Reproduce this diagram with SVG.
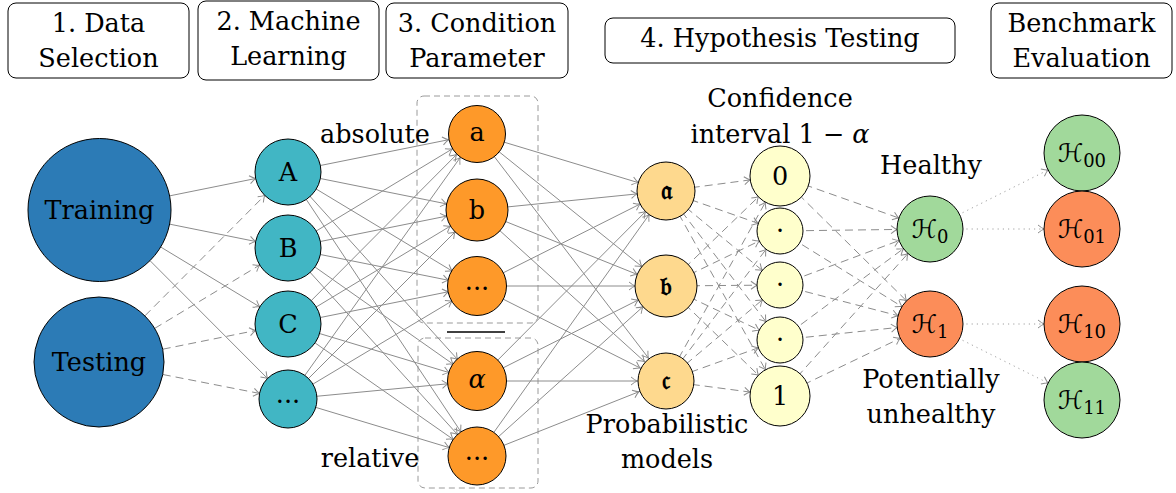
<svg xmlns="http://www.w3.org/2000/svg" width="1176" height="493" viewBox="0 0 1176 493" font-family="'DejaVu Serif', 'Liberation Serif', serif">
<style>
text{font-family:'DejaVu Serif','Liberation Serif',serif;font-size:25.5px;fill:#000;text-anchor:middle}
.hdr{fill:#fff;stroke:#000;stroke-width:1}
.n{stroke:#000;stroke-width:1}
.blue{fill:#2c7bb6}.teal{fill:#41b6c4}.org{fill:#fe9929}.lor{fill:#fed98e}.yel{fill:#ffffcc}.grn{fill:#a1d99b}.red{fill:#fc8d59}
.e{stroke:#8c8c8c;stroke-width:1;fill:none}
.d{stroke-dasharray:8 5}
.dt{stroke-dasharray:1.2 4;stroke:#a0a0a0}
.box{fill:none;stroke:#9a9a9a;stroke-width:1;stroke-dasharray:6 4}
.ah{fill:none;stroke:#8c8c8c;stroke-width:1;stroke-dasharray:none}
.it{font-style:italic}
.sub{font-size:18px}
.frak{font-family:'DejaVu Sans','Noto Sans',serif;font-weight:bold}
.scr{font-family:'DejaVu Serif','DejaVu Sans',serif;font-style:italic}
</style>
<defs>
<marker id="m23" markerUnits="userSpaceOnUse" orient="auto" refX="23" refY="0" overflow="visible"><path class="ah" d="M-6,-4 Q-2,-0.8 0,0 Q-2,0.8 -6,4"/></marker>
<marker id="m29" markerUnits="userSpaceOnUse" orient="auto" refX="29" refY="0" overflow="visible"><path class="ah" d="M-6,-4 Q-2,-0.8 0,0 Q-2,0.8 -6,4"/></marker>
<marker id="m30" markerUnits="userSpaceOnUse" orient="auto" refX="30" refY="0" overflow="visible"><path class="ah" d="M-6,-4 Q-2,-0.8 0,0 Q-2,0.8 -6,4"/></marker>
<marker id="m31" markerUnits="userSpaceOnUse" orient="auto" refX="31" refY="0" overflow="visible"><path class="ah" d="M-6,-4 Q-2,-0.8 0,0 Q-2,0.8 -6,4"/></marker>
<marker id="m33" markerUnits="userSpaceOnUse" orient="auto" refX="33" refY="0" overflow="visible"><path class="ah" d="M-6,-4 Q-2,-0.8 0,0 Q-2,0.8 -6,4"/></marker>
<marker id="m38" markerUnits="userSpaceOnUse" orient="auto" refX="38" refY="0" overflow="visible"><path class="ah" d="M-6,-4 Q-2,-0.8 0,0 Q-2,0.8 -6,4"/></marker>
</defs>

<g id="headers">
<g id="h1"><rect class="hdr" x="8" y="3" width="181" height="75" rx="8"/><text x="98.5" y="32">1. Data</text><text x="98.5" y="67">Selection</text></g>
<g id="h2"><rect class="hdr" x="198" y="1" width="181" height="79" rx="8"/><text x="288.5" y="30">2. Machine</text><text x="288.5" y="65">Learning</text></g>
<g id="h3"><rect class="hdr" x="386" y="3" width="182" height="75" rx="8"/><text x="477" y="32">3. Condition</text><text x="477" y="67">Parameter</text></g>
<g id="h4"><rect class="hdr" x="605" y="18" width="350" height="45" rx="8"/><text x="780" y="47">4. Hypothesis Testing</text></g>
<g id="h5"><rect class="hdr" x="991" y="3" width="181" height="75" rx="8"/><text x="1081.5" y="32">Benchmark</text><text x="1081.5" y="67">Evaluation</text></g>
</g>

<g id="groups">
<rect class="box" x="417" y="96" width="121" height="227" rx="7"/>
<rect class="box" x="418" y="338" width="120" height="150" rx="7"/>
<line x1="447" y1="332" x2="505" y2="332" stroke="#000" stroke-width="1.6"/>
</g>

<g id="connectors">
<line class="e" x1="99.5" y1="210" x2="288" y2="172" marker-end="url(#m33)"/>
<line class="e" x1="99.5" y1="210" x2="288" y2="248" marker-end="url(#m33)"/>
<line class="e" x1="99.5" y1="210" x2="288" y2="324" marker-end="url(#m33)"/>
<line class="e" x1="99.5" y1="210" x2="288" y2="399" marker-end="url(#m29)"/>
<line class="e d" x1="99" y1="362" x2="288" y2="172" marker-end="url(#m33)"/>
<line class="e d" x1="99" y1="362" x2="288" y2="248" marker-end="url(#m33)"/>
<line class="e d" x1="99" y1="362" x2="288" y2="324" marker-end="url(#m33)"/>
<line class="e d" x1="99" y1="362" x2="288" y2="399" marker-end="url(#m29)"/>
<line class="e" x1="288" y1="172" x2="477" y2="134" marker-end="url(#m29)"/>
<line class="e" x1="288" y1="172" x2="477" y2="210" marker-end="url(#m31)"/>
<line class="e" x1="288" y1="172" x2="477" y2="286" marker-end="url(#m29)"/>
<line class="e" x1="288" y1="172" x2="477" y2="381" marker-end="url(#m29)"/>
<line class="e" x1="288" y1="172" x2="477" y2="456" marker-end="url(#m29)"/>
<line class="e" x1="288" y1="248" x2="477" y2="134" marker-end="url(#m29)"/>
<line class="e" x1="288" y1="248" x2="477" y2="210" marker-end="url(#m31)"/>
<line class="e" x1="288" y1="248" x2="477" y2="286" marker-end="url(#m29)"/>
<line class="e" x1="288" y1="248" x2="477" y2="381" marker-end="url(#m29)"/>
<line class="e" x1="288" y1="248" x2="477" y2="456" marker-end="url(#m29)"/>
<line class="e" x1="288" y1="324" x2="477" y2="134" marker-end="url(#m29)"/>
<line class="e" x1="288" y1="324" x2="477" y2="210" marker-end="url(#m31)"/>
<line class="e" x1="288" y1="324" x2="477" y2="286" marker-end="url(#m29)"/>
<line class="e" x1="288" y1="324" x2="477" y2="381" marker-end="url(#m29)"/>
<line class="e" x1="288" y1="324" x2="477" y2="456" marker-end="url(#m29)"/>
<line class="e" x1="288" y1="399" x2="477" y2="134" marker-end="url(#m29)"/>
<line class="e" x1="288" y1="399" x2="477" y2="210" marker-end="url(#m31)"/>
<line class="e" x1="288" y1="399" x2="477" y2="286" marker-end="url(#m29)"/>
<line class="e" x1="288" y1="399" x2="477" y2="381" marker-end="url(#m29)"/>
<line class="e" x1="288" y1="399" x2="477" y2="456" marker-end="url(#m29)"/>
<line class="e" x1="477" y1="134" x2="666" y2="191" marker-end="url(#m29)"/>
<line class="e" x1="477" y1="134" x2="666" y2="286" marker-end="url(#m31)"/>
<line class="e" x1="477" y1="134" x2="666" y2="381" marker-end="url(#m29)"/>
<line class="e" x1="477" y1="210" x2="666" y2="191" marker-end="url(#m29)"/>
<line class="e" x1="477" y1="210" x2="666" y2="286" marker-end="url(#m31)"/>
<line class="e" x1="477" y1="210" x2="666" y2="381" marker-end="url(#m29)"/>
<line class="e" x1="477" y1="286" x2="666" y2="191" marker-end="url(#m29)"/>
<line class="e" x1="477" y1="286" x2="666" y2="286" marker-end="url(#m31)"/>
<line class="e" x1="477" y1="286" x2="666" y2="381" marker-end="url(#m29)"/>
<line class="e" x1="477" y1="381" x2="666" y2="191" marker-end="url(#m29)"/>
<line class="e" x1="477" y1="381" x2="666" y2="286" marker-end="url(#m31)"/>
<line class="e" x1="477" y1="381" x2="666" y2="381" marker-end="url(#m29)"/>
<line class="e" x1="477" y1="456" x2="666" y2="191" marker-end="url(#m29)"/>
<line class="e" x1="477" y1="456" x2="666" y2="286" marker-end="url(#m31)"/>
<line class="e" x1="477" y1="456" x2="666" y2="381" marker-end="url(#m29)"/>
<line class="e d" x1="666" y1="191" x2="780" y2="176" marker-end="url(#m30)"/>
<line class="e d" x1="666" y1="191" x2="780" y2="231" marker-end="url(#m23)"/>
<line class="e d" x1="666" y1="191" x2="780" y2="285" marker-end="url(#m23)"/>
<line class="e d" x1="666" y1="191" x2="780" y2="340" marker-end="url(#m23)"/>
<line class="e d" x1="666" y1="191" x2="780" y2="396" marker-end="url(#m30)"/>
<line class="e d" x1="666" y1="286" x2="780" y2="176" marker-end="url(#m30)"/>
<line class="e d" x1="666" y1="286" x2="780" y2="231" marker-end="url(#m23)"/>
<line class="e d" x1="666" y1="286" x2="780" y2="285" marker-end="url(#m23)"/>
<line class="e d" x1="666" y1="286" x2="780" y2="340" marker-end="url(#m23)"/>
<line class="e d" x1="666" y1="286" x2="780" y2="396" marker-end="url(#m30)"/>
<line class="e d" x1="666" y1="381" x2="780" y2="176" marker-end="url(#m30)"/>
<line class="e d" x1="666" y1="381" x2="780" y2="231" marker-end="url(#m23)"/>
<line class="e d" x1="666" y1="381" x2="780" y2="285" marker-end="url(#m23)"/>
<line class="e d" x1="666" y1="381" x2="780" y2="340" marker-end="url(#m23)"/>
<line class="e d" x1="666" y1="381" x2="780" y2="396" marker-end="url(#m30)"/>
<line class="e d" x1="780" y1="176" x2="930" y2="229" marker-end="url(#m33)"/>
<line class="e d" x1="780" y1="176" x2="930" y2="324" marker-end="url(#m33)"/>
<line class="e d" x1="780" y1="231" x2="930" y2="229" marker-end="url(#m33)"/>
<line class="e d" x1="780" y1="231" x2="930" y2="324" marker-end="url(#m33)"/>
<line class="e d" x1="780" y1="285" x2="930" y2="229" marker-end="url(#m33)"/>
<line class="e d" x1="780" y1="285" x2="930" y2="324" marker-end="url(#m33)"/>
<line class="e d" x1="780" y1="340" x2="930" y2="229" marker-end="url(#m33)"/>
<line class="e d" x1="780" y1="340" x2="930" y2="324" marker-end="url(#m33)"/>
<line class="e d" x1="780" y1="396" x2="930" y2="229" marker-end="url(#m33)"/>
<line class="e d" x1="780" y1="396" x2="930" y2="324" marker-end="url(#m33)"/>
<line class="e dt" x1="930" y1="229" x2="1082" y2="153" marker-end="url(#m38)"/>
<line class="e dt" x1="930" y1="229" x2="1082" y2="229" marker-end="url(#m38)"/>
<line class="e dt" x1="930" y1="324" x2="1082" y2="324" marker-end="url(#m38)"/>
<line class="e dt" x1="930" y1="324" x2="1082" y2="400" marker-end="url(#m38)"/>
</g>

<g id="labels">
<text x="375" y="143">absolute</text>
<text x="370" y="467">relative</text>
<text x="667" y="433">Probabilistic</text>
<text x="667" y="468">models</text>
<text x="780" y="107">Confidence</text>
<text x="780" y="143">interval 1 − <tspan class="it">α</tspan></text>
<text x="931" y="174">Healthy</text>
<text x="931" y="388">Potentially</text>
<text x="931" y="423">unhealthy</text>
</g>

<g id="n-training"><circle class="n blue" cx="99.5" cy="210" r="71.5"/><text x="99.5" y="219">Training</text></g>
<g id="n-testing"><circle class="n blue" cx="99" cy="362" r="65"/><text x="99" y="371">Testing</text></g>

<g id="n-A"><circle class="n teal" cx="288" cy="172" r="33"/><text x="288" y="181">A</text></g>
<g id="n-B"><circle class="n teal" cx="288" cy="248" r="33"/><text x="288" y="257">B</text></g>
<g id="n-C"><circle class="n teal" cx="288" cy="324" r="33"/><text x="288" y="333">C</text></g>
<g id="n-D"><circle class="n teal" cx="288" cy="399" r="29"/><text x="288" y="403">...</text></g>

<g id="n-a"><circle class="n org" cx="477" cy="134" r="28.5"/><text x="477" y="141">a</text></g>
<g id="n-b"><circle class="n org" cx="477" cy="210" r="31"/><text x="477" y="219">b</text></g>
<g id="n-dots1"><circle class="n org" cx="477" cy="286" r="29.5"/><text x="477" y="290">...</text></g>
<g id="n-alpha"><circle class="n org" cx="477" cy="381" r="29.5"/><text class="it" x="477" y="388">α</text></g>
<g id="n-dots2"><circle class="n org" cx="477" cy="456" r="29"/><text x="477" y="460">...</text></g>

<g id="n-pa"><circle class="n lor" cx="666" cy="191" r="29"/><text class="frak" x="666" y="199">𝔞</text></g>
<g id="n-pb"><circle class="n lor" cx="666" cy="286" r="31"/><text class="frak" x="666" y="295">𝔟</text></g>
<g id="n-pc"><circle class="n lor" cx="666" cy="381" r="28"/><text class="frak" x="666" y="389">𝔠</text></g>

<g id="n-c0"><circle class="n yel" cx="780" cy="176" r="30"/><text x="780" y="185">0</text></g>
<g id="n-c1"><circle class="n yel" cx="780" cy="231" r="23"/><text x="780" y="239">·</text></g>
<g id="n-c2"><circle class="n yel" cx="780" cy="285" r="23"/><text x="780" y="293">·</text></g>
<g id="n-c3"><circle class="n yel" cx="780" cy="340" r="23"/><text x="780" y="348">·</text></g>
<g id="n-c4"><circle class="n yel" cx="780" cy="396" r="30"/><text x="780" y="405">1</text></g>

<g id="n-H0"><circle class="n grn" cx="930" cy="229" r="33"/><text x="930" y="238"><tspan class="scr">ℋ</tspan><tspan class="sub" dy="5">0</tspan></text></g>
<g id="n-H1"><circle class="n red" cx="930" cy="324" r="33"/><text x="930" y="333"><tspan class="scr">ℋ</tspan><tspan class="sub" dy="5">1</tspan></text></g>

<g id="n-H00"><circle class="n grn" cx="1082" cy="153" r="38"/><text x="1082" y="162"><tspan class="scr">ℋ</tspan><tspan class="sub" dy="5">00</tspan></text></g>
<g id="n-H01"><circle class="n red" cx="1082" cy="229" r="38"/><text x="1082" y="238"><tspan class="scr">ℋ</tspan><tspan class="sub" dy="5">01</tspan></text></g>
<g id="n-H10"><circle class="n red" cx="1082" cy="324" r="38"/><text x="1082" y="333"><tspan class="scr">ℋ</tspan><tspan class="sub" dy="5">10</tspan></text></g>
<g id="n-H11"><circle class="n grn" cx="1082" cy="400" r="38"/><text x="1082" y="409"><tspan class="scr">ℋ</tspan><tspan class="sub" dy="5">11</tspan></text></g>
</svg>
